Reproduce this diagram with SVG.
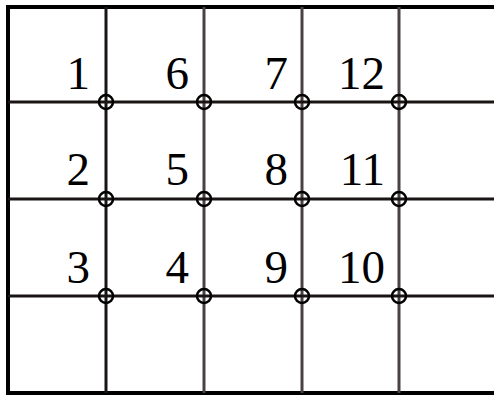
<svg xmlns="http://www.w3.org/2000/svg" width="494" height="396" viewBox="0 0 494 396">
<style>
.bd{stroke:#000;stroke-width:4;fill:none}
.ln{stroke:#1a1414;stroke-width:3;fill:none}
.lg{stroke:#4a4242;stroke-width:3;fill:none}
.jn{stroke:#000;stroke-width:2.5;fill:none}
.num{font-family:"Liberation Serif","Times New Roman",serif;font-size:47px;fill:#000;text-anchor:end}
</style>
<rect x="0" y="0" width="494" height="396" fill="#fff"/>
<g id="connectors">
<line class="bd" x1="8" y1="7" x2="494" y2="7"/>
<line class="bd" x1="8" y1="393" x2="494" y2="393"/>
<line class="bd" x1="8" y1="5" x2="8" y2="395"/>
<line class="ln" x1="106" y1="7" x2="106" y2="393"/>
<line class="lg" x1="204" y1="7" x2="204" y2="393"/>
<line class="lg" x1="302" y1="7" x2="302" y2="393"/>
<line class="lg" x1="399" y1="7" x2="399" y2="393"/>
<line class="ln" x1="8" y1="102" x2="494" y2="102"/>
<line class="ln" x1="8" y1="199" x2="494" y2="199"/>
<line class="ln" x1="8" y1="296" x2="494" y2="296"/>
</g>
<g id="junctions">
<circle class="jn" cx="106" cy="102" r="7"/>
<circle class="jn" cx="204" cy="102" r="7"/>
<circle class="jn" cx="302" cy="102" r="7"/>
<circle class="jn" cx="399" cy="102" r="7"/>
<circle class="jn" cx="106" cy="199" r="7"/>
<circle class="jn" cx="204" cy="199" r="7"/>
<circle class="jn" cx="302" cy="199" r="7"/>
<circle class="jn" cx="399" cy="199" r="7"/>
<circle class="jn" cx="106" cy="296" r="7"/>
<circle class="jn" cx="204" cy="296" r="7"/>
<circle class="jn" cx="302" cy="296" r="7"/>
<circle class="jn" cx="399" cy="296" r="7"/>
</g>
<g id="cell1"><text class="num" x="90" y="89">1</text></g>
<g id="cell6"><text class="num" x="189" y="89">6</text></g>
<g id="cell7"><text class="num" x="288" y="89">7</text></g>
<g id="cell12"><text class="num" x="385" y="89">12</text></g>
<g id="cell2"><text class="num" x="90" y="185">2</text></g>
<g id="cell5"><text class="num" x="189" y="185">5</text></g>
<g id="cell8"><text class="num" x="288" y="185">8</text></g>
<g id="cell11"><text class="num" x="385" y="185">11</text></g>
<g id="cell3"><text class="num" x="90" y="283">3</text></g>
<g id="cell4"><text class="num" x="189" y="283">4</text></g>
<g id="cell9"><text class="num" x="288" y="283">9</text></g>
<g id="cell10"><text class="num" x="385" y="283">10</text></g>
</svg>
